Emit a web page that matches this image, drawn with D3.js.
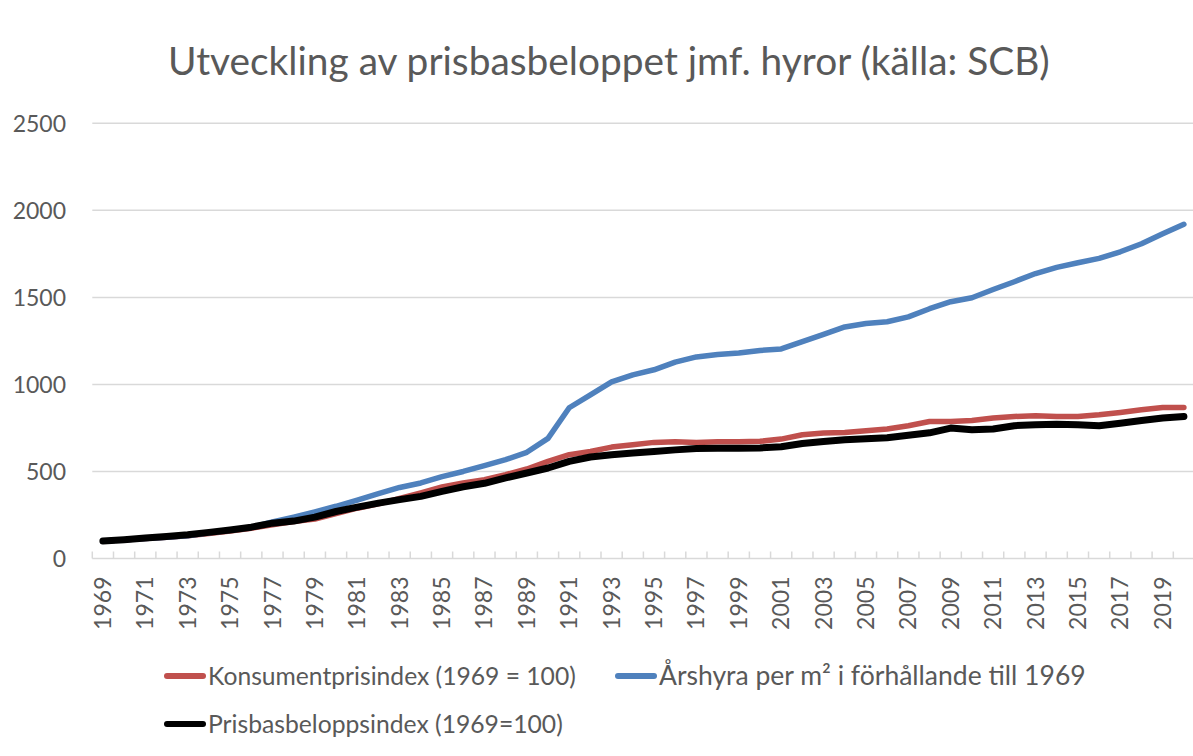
<!DOCTYPE html>
<html>
<head>
<meta charset="utf-8">
<script src="https://cdn.jsdelivr.net/npm/d3@7"></script>
<style>
  html, body { margin: 0; padding: 0; background: #fff; }
  svg { display: block; }
  text { font-family: Lato, "Open Sans", sans-serif; fill: #595959; }
</style>
</head>
<body>
<script>
const titleText = "Utveckling av prisbasbeloppet jmf. hyror (källa: SCB)";
const years = d3.range(1969, 2021);
const seriesNames = ["Konsumentprisindex (1969 = 100)", "Årshyra per m² i förhållande till 1969", "Prisbasbeloppsindex (1969=100)"];
const seriesColors = ["#C0504D", "#4F81BD", "#000000"];
const kpi = [100,107,115,122,131,144,158,174,193,212,227,258,289,314,345,377,411,434,453,482,514,558,596,615,640,654,667,670,667,670,670,673,686,711,721,724,734,744,763,787,787,793,807,816,820,816,816,826,839,854,868,868];
const rent = [100,108,115,122,131,148,162,180,210,238,268,300,335,372,408,434,470,500,533,568,610,690,866,940,1015,1055,1084,1128,1158,1172,1180,1195,1204,1246,1288,1330,1350,1360,1388,1435,1475,1498,1545,1590,1637,1672,1699,1724,1762,1808,1865,1920];
const pbb = [100,108,118,127,136,150,164,180,203,215,238,270,295,318,338,357,386,412,432,463,491,520,558,583,596,606,615,624,632,633,633,635,642,661,672,682,688,694,708,722,749,740,744,763,768,771,768,763,777,793,807,816];
const yTicks = [0, 500, 1000, 1500, 2000, 2500];
const xTickLabels = years.filter((y, i) => i % 2 === 0);

const W = 1193, H = 756;
const svg = d3.select("body").append("svg").attr("width", W).attr("height", H);

const x = d3.scaleBand().domain(years).range([92.3, 1194.5]);
const y = d3.scaleLinear().domain([0, 2500]).range([558.5, 123.3]);

function fit(sel, target) {
  sel.style("font-size", "100px");
  const len = sel.node().getComputedTextLength();
  sel.style("font-size", (100 * target / len) + "px");
}

// title
const t = svg.append("text").attr("x", 168).attr("y", 75).text(titleText);
fit(t, 882);

// gridlines
svg.append("g").selectAll("line").data(yTicks.filter(d => d > 0)).join("line")
  .attr("x1", 92.3).attr("x2", 1194.5)
  .attr("y1", d => y(d)).attr("y2", d => y(d))
  .attr("stroke", "#d9d9d9").attr("stroke-width", 1.5);

// y axis labels
const yAxis = d3.axisLeft(y).tickValues(yTicks).tickFormat(d3.format("d")).tickSize(0).tickPadding(0);
const gy = svg.append("g").attr("transform", "translate(66,0)").call(yAxis);
gy.select(".domain").remove();
gy.selectAll("text").style("font-size", "23px").style("font-family", "Lato").attr("fill", "#595959").attr("dy", "0.35em");

// x axis line and ticks (ticks at category boundaries, pointing up)
const gx = svg.append("g");
gx.append("line").attr("x1", 92.3).attr("x2", 1194.5).attr("y1", y(0)).attr("y2", y(0))
  .attr("stroke", "#d9d9d9").attr("stroke-width", 1.5);
const bounds = years.map(d => x(d)).concat([x(years[years.length - 1]) + x.bandwidth()]);
gx.selectAll("line.tk").data(bounds).join("line").attr("class", "tk")
  .attr("x1", d => d).attr("x2", d => d).attr("y1", y(0)).attr("y2", y(0) - 7)
  .attr("stroke", "#d9d9d9").attr("stroke-width", 1.5);

// x labels rotated
const xAxis = d3.axisBottom(x).tickValues(xTickLabels).tickSize(0).tickPadding(0);
const gxl = svg.append("g").attr("transform", `translate(0,${y(0)})`).call(xAxis);
gxl.select(".domain").remove();
gxl.selectAll("text")
  .style("font-size", "23px").style("font-family", "Lato").attr("fill", "#595959")
  .attr("text-anchor", "end")
  .attr("transform", "rotate(-90)")
  .attr("x", -18).attr("y", 0).attr("dy", "0.35em");

// lines
const line = d3.line().x((d, i) => x(years[i]) + x.bandwidth() / 2).y(d => y(d));
const allSeries = [kpi, rent, pbb];
const widths = [5.5, 5.5, 7];
allSeries.forEach((s, k) => {
  svg.append("path").datum(s).attr("d", line)
    .attr("fill", "none").attr("stroke", seriesColors[k])
    .attr("stroke-width", widths[k]).attr("stroke-linejoin", "round").attr("stroke-linecap", "round");
});

// legend
const legendPos = [{lx: 167, ly: 676, tw: 368}, {lx: 618, ly: 676, tw: 427}, {lx: 167, ly: 724, tw: 355}];
seriesNames.forEach((name, k) => {
  const p = legendPos[k];
  svg.append("line").attr("x1", p.lx).attr("x2", p.lx + 36).attr("y1", p.ly).attr("y2", p.ly)
    .attr("stroke", seriesColors[k]).attr("stroke-width", 6).attr("stroke-linecap", "round");
  const tt = svg.append("text").attr("x", p.lx + 41).attr("y", p.ly).attr("dy", "0.35em").text(name);
  fit(tt, p.tw);
});
</script>
</body>
</html>
